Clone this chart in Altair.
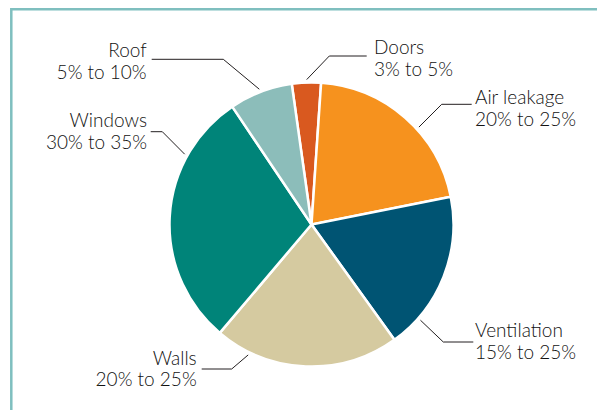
import math
import altair as alt
import pandas as pd

# ---- data ----
categories = ["Doors", "Air leakage", "Ventilation", "Walls", "Windows", "Roof"]
shares = [3.3, 20.8, 18.2, 21.1, 29.4, 7.2]
range_labels = ["3% to 5%", "20% to 25%", "15% to 25%", "20% to 25%", "30% to 35%", "5% to 10%"]
colors = ["#D9591F", "#F6921E", "#005473", "#D5CAA0", "#008479", "#8CBDBA"]

# ---- layout (pixels in chart space) ----
W, H = 589, 402
CX, CY, R = 303.5, 216.5, 142
START_DEG = -8.0
FONT = "Lato"
TEXT_COLOR = "#111111"

# leader anchor angle on rim (deg clockwise from top), elbow, end of horizontal, text pos, align
label_layout = {
    "Doors":       dict(angle=-1.9,  elbow=(321.3, 48.0),  end=(358.7, 48.0),  text=(366.0, 46.3),  align="left"),
    "Air leakage": dict(angle=47.8,  elbow=(433.7, 96.3),  end=(463.7, 96.3),  text=(467.0, 96.0),  align="left"),
    "Ventilation": dict(angle=131.3, elbow=(435.3, 334.0), end=(465.3, 334.0), text=(467.0, 329.0), align="left"),
    "Walls":       dict(angle=205.9, elbow=(223.7, 361.0), end=(193.7, 361.0), text=(188.7, 356.7), align="right"),
    "Windows":     dict(angle=299.0, elbow=(154.3, 123.7), end=(142.7, 123.7), text=(139.0, 119.0), align="right"),
    "Roof":        dict(angle=338.9, elbow=(215.3, 51.3),  end=(143.7, 51.3),  text=(138.7, 49.0),  align="right"),
}

pie_df = pd.DataFrame({
    "category": categories,
    "share": shares,
    "idx": list(range(len(categories))),
})

line_rows, text_rows = [], []
for cat, rng in zip(categories, range_labels):
    L = label_layout[cat]
    a = math.radians(L["angle"])
    ax = CX + (R + 3) * math.sin(a)
    ay = CY - (R + 3) * math.cos(a)
    for o, (px, py) in enumerate([(ax, ay), L["elbow"], L["end"]]):
        line_rows.append({"category": cat, "o": o, "px": px, "py": py})
    text_rows.append({"category": cat, "label": cat + "\n" + rng,
                      "px": L["text"][0], "py": L["text"][1], "align": L["align"]})
line_df = pd.DataFrame(line_rows)
text_df = pd.DataFrame(text_rows)

xs = alt.Scale(domain=[0, W], range=[0, W], nice=False, zero=False)
ys = alt.Scale(domain=[0, H], range=[0, H], nice=False, zero=False)

start = math.radians(START_DEG)
pie = alt.Chart(pie_df).mark_arc(
    outerRadius=R, stroke="white", strokeWidth=2.5
).encode(
    theta=alt.Theta("share:Q", stack=True,
                    scale=alt.Scale(range=[start, start + 2 * math.pi])),
    order=alt.Order("idx:Q"),
    color=alt.Color("category:N", scale=alt.Scale(domain=categories, range=colors), legend=None),
    x=alt.value(CX),
    y=alt.value(CY),
)

leaders = alt.Chart(line_df).mark_line(color="#231F20", strokeWidth=1).encode(
    x=alt.X("px:Q", scale=xs, axis=None),
    y=alt.Y("py:Q", scale=ys, axis=None),
    detail="category:N",
    order="o:Q",
)

def text_layer(align):
    return alt.Chart(text_df).transform_filter(
        alt.datum.align == align
    ).mark_text(
        align=align, baseline="alphabetic", font=FONT, fontSize=19, fontWeight=300,
        lineBreak="\n", lineHeight=21.5, color=TEXT_COLOR
    ).encode(
        x=alt.X("px:Q", scale=xs, axis=None),
        y=alt.Y("py:Q", scale=ys, axis=None),
        text="label:N",
    )

frame = alt.Chart(pd.DataFrame({"k": [0]})).mark_rect(
    fill=None, stroke="#7FBFBF", strokeWidth=2.5
).encode(
    x=alt.value(3.3), y=alt.value(1.3), x2=alt.value(W + 30), y2=alt.value(H + 30)
)

chart = alt.layer(frame, pie, leaders, text_layer("left"), text_layer("right")).properties(
    width=W, height=H, padding=0, autosize=alt.AutoSizeParams(type="none")
).configure_view(stroke=None).resolve_scale(color="independent")

chart.save("out.html", embed_options={"renderer": "svg", "actions": False})
